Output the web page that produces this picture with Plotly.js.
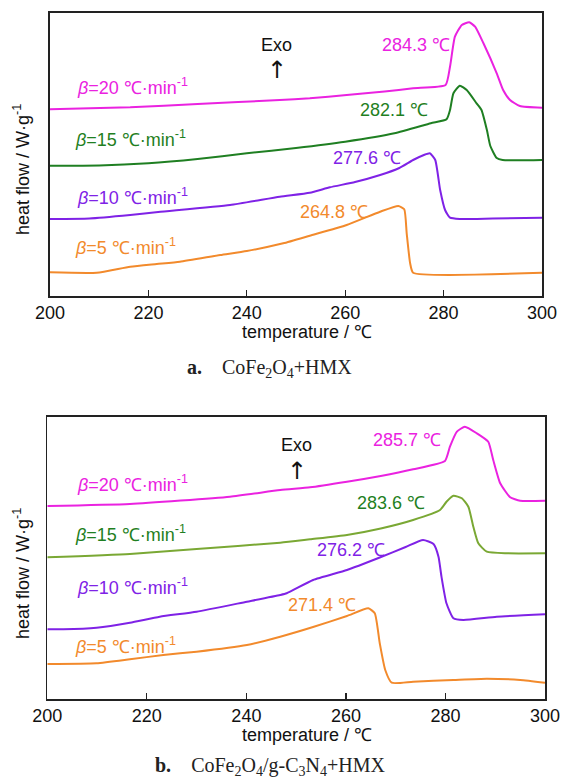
<!DOCTYPE html>
<html><head><meta charset="utf-8">
<script src="https://cdn.plot.ly/plotly-3.0.1.min.js"></script>
<style>html,body{margin:0;padding:0;background:#fff;}#c{width:562px;height:780px;}</style>
</head><body><div id="c"></div>
<script>
// ---- panel a: CoFe2O4+HMX ----
const a_T20 = [200, 216.3, 230, 246.7, 252.8, 260.3, 268, 273.8, 280.4, 281.3, 282.3, 283.7, 285.2, 286.4, 288.1, 290.8, 292.1, 293.5, 295.5, 300];
const a_H20 = [186.7, 188.7, 192, 196, 197.7, 201, 204.5, 207.7, 211, 229.3, 259.3, 271, 273.7, 269.3, 252.7, 222.7, 206, 196, 190, 188.3];
const a_T15 = [200, 210, 220, 230, 240, 250, 260, 270, 277.4, 280.6, 281.3, 282, 283.3, 284.7, 286.7, 287.7, 288.8, 289.5, 290.8, 292, 300];
const a_H15 = [130.3, 130.5, 132.7, 137, 142.7, 148, 154.3, 162.7, 172.7, 176.7, 186, 202.7, 210.3, 206, 192.7, 186, 166, 150, 138, 136, 136];
const a_T10 = [200, 208, 216.3, 222, 236.6, 246.7, 252.8, 256.9, 262, 267.1, 271, 273.8, 276, 277.2, 278.3, 279.3, 280.3, 281.3, 283.3, 290, 300];
const a_H10 = [77, 77.5, 81, 84, 91, 99.3, 103.3, 108.7, 114, 121, 128, 136, 141, 142.7, 136, 106, 86, 78.3, 77, 77.5, 78.3];
const a_T5 = [200, 209.5, 216.3, 221.7, 226.4, 234.6, 240, 247.4, 252.8, 260.3, 267.1, 270.8, 272, 272.5, 273.2, 273.8, 300];
const a_H5 = [23.7, 23.3, 29.3, 32, 34.3, 41, 45, 52.7, 60.3, 71, 84.3, 90, 86.7, 62.7, 32.7, 23.3, 23.3];
const a_peaks = ["284.3 ℃", "282.1 ℃", "277.6 ℃", "264.8 ℃"];

// ---- panel b: CoFe2O4/g-C3N4+HMX ----
const b_T20 = [200, 216.6, 236.7, 246.8, 252.8, 260.2, 267, 273.5, 279.9, 280.9, 282.3, 283.9, 286.3, 288.6, 289.6, 291, 293, 295, 300];
const b_H20 = [193, 195, 202.3, 209, 211.7, 217.3, 223, 229.7, 238, 252.3, 267.3, 272.3, 265.7, 257.3, 239, 215.7, 201.7, 198.3, 198.3];
const b_T15 = [200, 216.6, 230, 246.8, 252.8, 260.2, 267, 273.5, 278.9, 280.2, 281.6, 283.3, 284.6, 285.6, 286.6, 288.3, 292.3, 300];
const b_H15 = [141.7, 145, 150, 156.3, 159.7, 164, 170.5, 179, 189, 197.3, 203.3, 200.7, 192.3, 172.3, 155.7, 147.3, 145.7, 145.7];
const b_T10 = [200, 203.2, 209.9, 216.6, 222.6, 230, 240.1, 246.8, 248.1, 253.4, 260.2, 266.8, 272, 275.5, 277.6, 278.6, 279.2, 280.2, 281.6, 283.6, 290.3, 300];
const b_H10 = [69.7, 69.7, 71.3, 76.3, 82.3, 87.3, 97.3, 104, 105.7, 119, 129, 141.5, 152, 159, 155, 142.3, 122.3, 95.7, 80.7, 79, 82.3, 84.7];
const b_T5 = [200, 209.9, 216.6, 223.3, 230, 240.1, 246.8, 253.4, 260.2, 264.5, 265.8, 266.8, 267.9, 269.2, 273.5, 281.6, 288.3, 295, 300];
const b_H5 = [35, 35.7, 39.7, 44, 47.3, 54, 62.3, 72, 83, 90.7, 85.7, 55.7, 29, 16.3, 17.3, 19, 20.3, 19, 16.3];
const b_peaks = ["285.7 ℃", "283.6 ℃", "276.2 ℃", "271.4 ℃"];

const rates = ["20", "15", "10", "5"];
const xTicks = [200, 220, 240, 260, 280, 300];
const xTitle = "temperature / ℃";
const yTitle = "heat flow / W·g<sup>-1</sup>";
const captionA = "<b>a.</b>    CoFe<sub>2</sub>O<sub>4</sub>+HMX";
const captionB = "<b>b.</b>    CoFe<sub>2</sub>O<sub>4</sub>/g-C<sub>3</sub>N<sub>4</sub>+HMX";

const MAG = "#ea22e0", GRN = "#1f7f22", PUR = "#7f22e6", ORG = "#f28a2c", OLV = "#7aa834";
const FONT = "Liberation Sans, Arial, sans-serif";

function tr(x, y, color, xa, ya) {
  return {x: x, y: y, mode: "lines", line: {color: color, width: 2, shape: "spline", smoothing: 0.5},
          xaxis: xa, yaxis: ya, hoverinfo: "skip", showlegend: false};
}
const data = [
  tr(a_T20, a_H20, MAG, "x", "y"), tr(a_T15, a_H15, GRN, "x", "y"),
  tr(a_T10, a_H10, PUR, "x", "y"), tr(a_T5, a_H5, ORG, "x", "y"),
  tr(b_T20, b_H20, MAG, "x2", "y2"), tr(b_T15, b_H15, OLV, "x2", "y2"),
  tr(b_T10, b_H10, PUR, "x2", "y2"), tr(b_T5, b_H5, ORG, "x2", "y2")
];

function xax(domain, anchor) {
  return {domain: domain, anchor: anchor, range: [200, 300], tickvals: xTicks, ticktext: xTicks.map(String),
    ticks: "inside", ticklen: 6, tickwidth: 1.2, tickcolor: "#222", showline: true, linecolor: "#222", linewidth: 1.6,
    mirror: true, showgrid: false, zeroline: false, tickfont: {family: FONT, size: 18, color: "#111"}, fixedrange: true};
}
function yax(domain, anchor, top) {
  return {domain: domain, anchor: anchor, range: [0, top], showticklabels: false, ticks: "",
    showline: true, linecolor: "#222", linewidth: 1.6, mirror: true, showgrid: false, zeroline: false, fixedrange: true};
}

function lab(text, x, y, color, xr, yr, anchor) {
  return {text: text, x: x, y: y, xref: xr, yref: yr, xanchor: anchor || "left", yanchor: "middle",
          showarrow: false, font: {family: FONT, size: 18, color: color}};
}
function arrowUp(x, y, xr, yr) {
  return {text: "↑", x: x, y: y, xref: xr, yref: yr, xanchor: "center", yanchor: "middle",
          showarrow: false, font: {family: "DejaVu Sans, sans-serif", size: 24, color: "#111"}};
}
const colorsA = [MAG, GRN, PUR, ORG];
const colorsBLab = [MAG, GRN, PUR, ORG];
const annotations = [
  // panel a
  lab("Exo", 246.1, 251, "#111", "x", "y", "center"),
  arrowUp(246.1, 226, "x", "y"),
  lab("<i>β</i>=" + rates[0] + " ℃·min<sup>-1</sup>", 205.1, 209.3, colorsA[0], "x", "y"),
  lab("<i>β</i>=" + rates[1] + " ℃·min<sup>-1</sup>", 204.7, 158, colorsA[1], "x", "y"),
  lab("<i>β</i>=" + rates[2] + " ℃·min<sup>-1</sup>", 205.1, 99.3, colorsA[2], "x", "y"),
  lab("<i>β</i>=" + rates[3] + " ℃·min<sup>-1</sup>", 204.7, 49.3, colorsA[3], "x", "y"),
  lab(a_peaks[0], 281.7, 251, colorsA[0], "x", "y", "right"),
  lab(a_peaks[1], 277.2, 186, colorsA[1], "x", "y", "right"),
  lab(a_peaks[2], 271.7, 137.7, colorsA[2], "x", "y", "right"),
  lab(a_peaks[3], 265.0, 84.3, colorsA[3], "x", "y", "right"),
  // panel b
  lab("Exo", 250.1, 254, "#111", "x2", "y2", "center"),
  arrowUp(250.1, 228, "x2", "y2"),
  lab("<i>β</i>=" + rates[0] + " ℃·min<sup>-1</sup>", 205.6, 215.7, colorsBLab[0], "x2", "y2"),
  lab("<i>β</i>=" + rates[1] + " ℃·min<sup>-1</sup>", 205.2, 165.7, colorsBLab[1], "x2", "y2"),
  lab("<i>β</i>=" + rates[2] + " ℃·min<sup>-1</sup>", 205.6, 112.3, colorsBLab[2], "x2", "y2"),
  lab("<i>β</i>=" + rates[3] + " ℃·min<sup>-1</sup>", 205.2, 54, colorsBLab[3], "x2", "y2"),
  lab(b_peaks[0], 279.6, 259, colorsBLab[0], "x2", "y2", "right"),
  lab(b_peaks[1], 276.2, 196.3, colorsBLab[1], "x2", "y2", "right"),
  lab(b_peaks[2], 268.2, 149, colorsBLab[2], "x2", "y2", "right"),
  lab(b_peaks[3], 262.5, 94, colorsBLab[3], "x2", "y2", "right"),
  // axis titles
  lab(xTitle, 307/562, 1 - 331.7/780, "#111", "paper", "paper", "center"),
  lab(xTitle, 307/562, 1 - 735/780, "#111", "paper", "paper", "center"),
  Object.assign(lab(yTitle, 21/562, 1 - 170/780, "#111", "paper", "paper", "center"), {textangle: -90}),
  Object.assign(lab(yTitle, 21/562, 1 - 574/780, "#111", "paper", "paper", "center"), {textangle: -90}),
  // captions
  {text: captionA, x: 269/562, y: 1 - 368/780, xref: "paper", yref: "paper", xanchor: "center", yanchor: "middle",
   showarrow: false, font: {family: "Liberation Serif, DejaVu Serif, serif", size: 20, color: "#222"}},
  {text: captionB, x: 270/562, y: 1 - 766/780, xref: "paper", yref: "paper", xanchor: "center", yanchor: "middle",
   showarrow: false, font: {family: "Liberation Serif, DejaVu Serif, serif", size: 20, color: "#222"}}
];

const layout = {
  width: 562, height: 780, margin: {l: 0, r: 0, t: 0, b: 0},
  paper_bgcolor: "#fff", plot_bgcolor: "#fff", showlegend: false,
  xaxis: xax([50/562, 542/562], "y"),
  yaxis: yax([1 - 296/780, 1 - 13/780], "x", 283),
  xaxis2: xax([47.3/562, 545/562], "y2"),
  yaxis2: yax([1 - 699/780, 1 - 416.7/780], "x2", 282.3),
  annotations: annotations
};
Plotly.newPlot("c", data, layout, {staticPlot: true, displayModeBar: false});
</script>
</body></html>
